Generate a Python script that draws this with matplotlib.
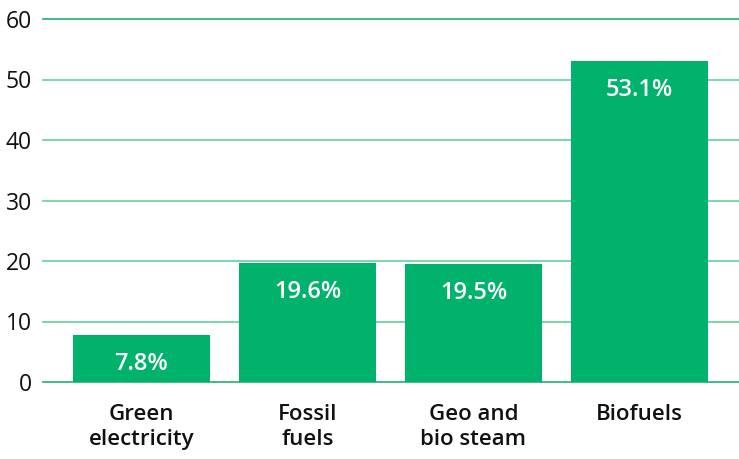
import matplotlib.pyplot as plt

# data
categories = ["Green\nelectricity", "Fossil\nfuels", "Geo and\nbio steam", "Biofuels"]
values = [7.8, 19.6, 19.5, 53.1]
bar_labels = ["7.8%", "19.6%", "19.5%", "53.1%"]
y_ticks = [0, 10, 20, 30, 40, 50, 60]

bar_color = "#00b26b"
grid_color = "#6fd4a6"

plt.rcParams["font.family"] = ["Open Sans", "DejaVu Sans"]

fig = plt.figure(figsize=(7.39, 4.59), dpi=100)
ax = fig.add_axes([43 / 739, 77 / 459, 696 / 739, 363 / 459])

x = range(len(categories))
bars = ax.bar(x, values, width=0.825, color=bar_color, zorder=3)

# value labels inside the bars
for rect, lab in zip(bars, bar_labels):
    ax.annotate(lab, (rect.get_x() + rect.get_width() / 2, rect.get_height()),
                xytext=(0, -29), textcoords="offset pixels",
                ha="center", va="center", color="white", fontsize=17,
                fontweight="semibold", zorder=4)

ax.set_xlim(-0.593, 3.6)
ax.set_ylim(0, 60)
ax.set_yticks(y_ticks)
ax.set_yticklabels([str(t) for t in y_ticks], fontsize=16.5, color="#111111")
ax.set_xticks(list(x))
ax.set_xticklabels(categories, fontsize=16, fontweight="semibold", color="#111111",
                   linespacing=1.22)

ax.tick_params(axis="y", length=0, pad=8)
ax.tick_params(axis="x", length=0, pad=16)

for t in y_ticks:
    ax.axhline(t, color=grid_color if t not in (0, 60) else "#2fb87c",
               linewidth=1.3, zorder=1, clip_on=False)

for s in ax.spines.values():
    s.set_visible(False)

fig.savefig("out.png", dpi=100)
